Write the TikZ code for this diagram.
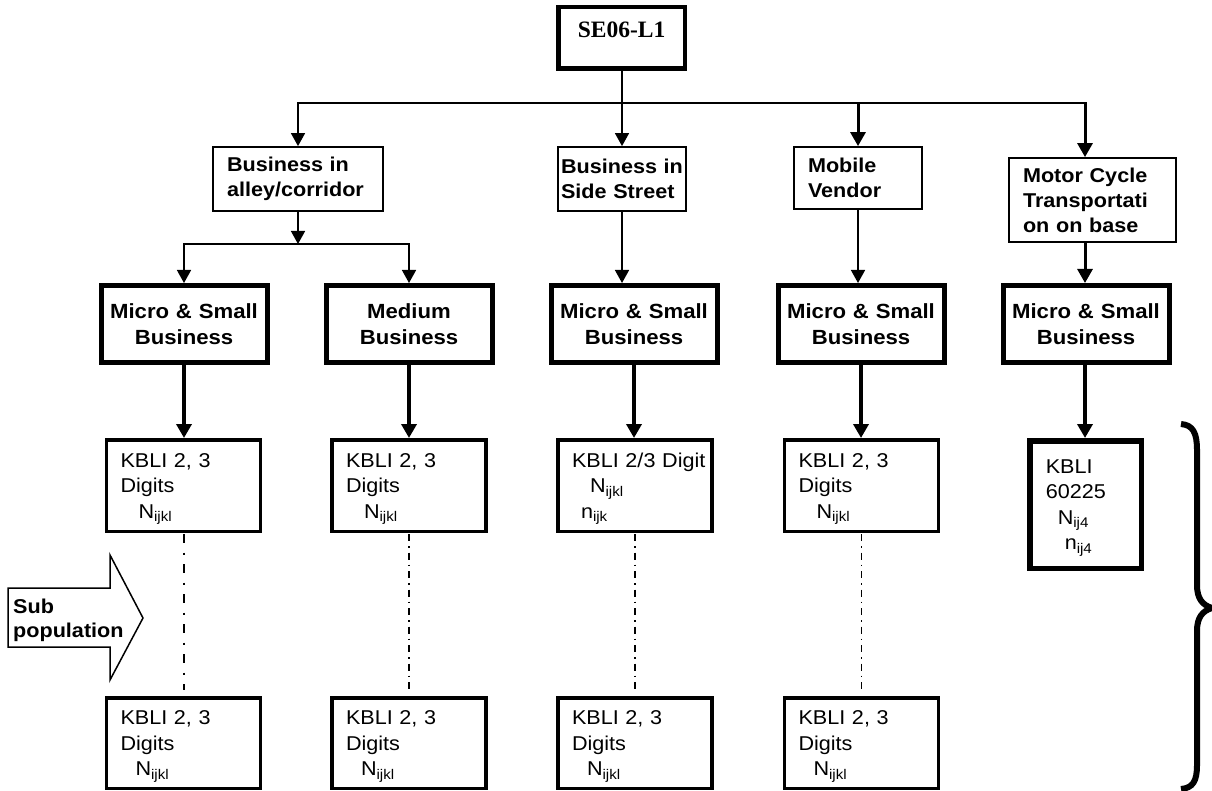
\documentclass[tikz,border=0pt]{standalone}
\usepackage{fontspec}
\setmainfont{Liberation Sans}[FakeStretch=1.08]
\newfontfamily\titlefont{Liberation Serif}
\usetikzlibrary{arrows.meta}
% lowered small index after a letter
\newcommand\subx[1]{\raisebox{-3.5pt}{\fontsize{14}{14}\selectfont #1}}
\newcommand\ind[1]{\hspace*{#1pt}}

\begin{document}
\begin{tikzpicture}[x=1pt,y=-1pt,
  lvbox/.style={draw, line width=1.8pt, align=left, inner ysep=0pt,
    font=\bfseries\fontsize{20}{25}\selectfont},
  smbox/.style={draw, line width=5pt, align=center, minimum width=166pt,
    minimum height=77pt, text width=150pt, inner xsep=8pt,
    font=\bfseries\fontsize{20.5}{26}\selectfont},
  kbox/.style={draw, line width=3.5pt, align=left, inner xsep=14pt,
    text width=126pt, minimum height=91.5pt, text height=20.5pt,
    font=\fontsize{20}{25.5}\selectfont},
  thinline/.style={line width=1.5pt},
  thinarr/.style={line width=1.5pt, -{Triangle[width=14pt,length=13pt]}},
  thickarr/.style={line width=3pt, -{Triangle[width=15pt,length=14pt]}},
  bigarr/.style={line width=3.5pt, -{Triangle[width=15pt,length=14pt]}},
  ddone/.style={line width=2pt, dash pattern=on 9pt off 9.5pt on 2pt off 9.5pt},
  ddtwo/.style={line width=1.3pt, dash pattern=on 7pt off 5pt on 1.5pt off 5pt},
]
\useasboundingbox (0,0) rectangle (1212,791);
\fill[white] (0,0) rectangle (1212,791);

% root
\node[draw, line width=4.5pt, minimum width=126.5pt, minimum height=61.5pt,
  text height=15pt, text depth=15pt,
  font=\titlefont\bfseries\fontsize{23.5}{28}\selectfont] (se) at (621.5,38) {SE06-L1};

% location types
\node[lvbox, inner xsep=14pt, text width=142pt, minimum height=64pt] (alley) at (298,179) {Business~in\\alley/corridor};
\node[lvbox, inner xsep=3pt, text width=122pt, minimum height=64pt] (side) at (622,179) {Business~in\\Side~Street};
\node[lvbox, inner xsep=14pt, text width=100pt, minimum height=62pt] (mob) at (858,178) {Mobile\\Vendor};
\node[lvbox, inner xsep=14pt, text width=139pt, minimum height=84pt] (motor) at (1092.5,200) {Motor~Cycle\\Transportati\\on~on~base};

% business size
\node[smbox] (m1) at (184,324) {Micro~\&~Small\\Business};
\node[smbox] (m2) at (409,324) {Medium\\Business};
\node[smbox] (m3) at (634,324) {Micro~\&~Small\\Business};
\node[smbox] (m4) at (861,324) {Micro~\&~Small\\Business};
\node[smbox] (m5) at (1086,324) {Micro~\&~Small\\Business};

% first KBLI strata
\node[kbox] (k1) at (183.5,485.5) {KBLI~2,~3\\Digits\\\ind{18}N\subx{ijkl}};
\node[kbox] (k2) at (409,485.5) {KBLI~2,~3\\Digits\\\ind{18}N\subx{ijkl}};
\node[kbox] (k3) at (635,485.5) {KBLI~2/3~Digit\\\ind{18}N\subx{ijkl}\\\ind{9}n\subx{ijk}};
\node[kbox] (k4) at (861.5,485.5) {KBLI~2,~3\\Digits\\\ind{18}N\subx{ijkl}};
\node[kbox, line width=5.5pt, inner xsep=16pt, text width=79.5pt, minimum height=127.5pt] (k5) at (1085.5,504.5) {KBLI\\60225\\\ind{12}N\subx{ij4}\\\ind{19}n\subx{ij4}};

% last KBLI strata
\node[kbox, minimum height=90.5pt] (b1) at (183.5,743) {KBLI~2,~3\\Digits\\\ind{15}N\subx{ijkl}};
\node[kbox, minimum height=90.5pt] (b2) at (409,743) {KBLI~2,~3\\Digits\\\ind{15}N\subx{ijkl}};
\node[kbox, minimum height=90.5pt] (b3) at (635,743) {KBLI~2,~3\\Digits\\\ind{15}N\subx{ijkl}};
\node[kbox, minimum height=90.5pt] (b4) at (861.5,743) {KBLI~2,~3\\Digits\\\ind{15}N\subx{ijkl}};

% connectors
\coordinate (bus) at (622,103);
\coordinate (busR) at (1085,103);
\coordinate (split) at (298,244);
\draw[thinarr] (side.north |- se.south) -- (side.north);
\draw[thinarr] (bus) -| (alley.north);
\draw[thinline] (bus) -- (busR);
\draw[thickarr] (mob.north |- bus) -- (mob.north);
\draw[thickarr] ([yshift=0.75pt]busR) -- (busR |- motor.north);
\draw[thinarr] (alley.south) -- (split);
\draw[thinarr] (split) -| (m1.north);
\draw[thinarr] (split) -| (m2.north);
\draw[thinarr] (side.south) -- (side.south |- m3.north);
\draw[thinarr] (mob.south) -- (mob.south |- m4.north);
\draw[thickarr] (busR |- motor.south) -- (busR |- m5.north);

\draw[bigarr] (m1.south) -- (m1.south |- k1.north);
\draw[bigarr] (m2.south) -- (m2.south |- k2.north);
\draw[bigarr] (m3.south) -- (m3.south |- k3.north);
\draw[bigarr] (m4.south) -- (m4.south |- k4.north);
\draw[bigarr] (busR |- m5.south) -- (busR |- k5.north);

\draw[ddone, shorten <=1pt, shorten >=6pt] (k1.south) -- (b1.north);
\draw[ddtwo, shorten <=1pt, shorten >=4pt] (k2.south) -- (b2.north);
\draw[ddtwo, shorten <=1pt, shorten >=4pt] (k3.south) -- (b3.north);
\draw[ddtwo, shorten <=1pt, shorten >=4pt] (k4.south) -- (b4.north);

% sub-population block arrow
\draw[line width=1.5pt, line join=miter]
  (8,588) -- (110,588) -- (110,555) -- (143,618) -- (110,680) -- (110,647) -- (8,647) -- cycle;
\node[font=\bfseries\fontsize{20}{24}\selectfont, align=left, anchor=north west, inner sep=0pt]
  (sub) at (13,598.5) {Sub\\population};

% right-hand brace
\draw[line width=6pt]
  (1181,424) .. controls (1193,425) and (1197,433) .. (1197,450)
  -- (1197,585) .. controls (1197,598) and (1202,605) .. (1212,608)
  .. controls (1202,611) and (1197,618) .. (1197,631)
  -- (1197,765) .. controls (1197,781) and (1193,788) .. (1181,789);
\end{tikzpicture}
\end{document}
